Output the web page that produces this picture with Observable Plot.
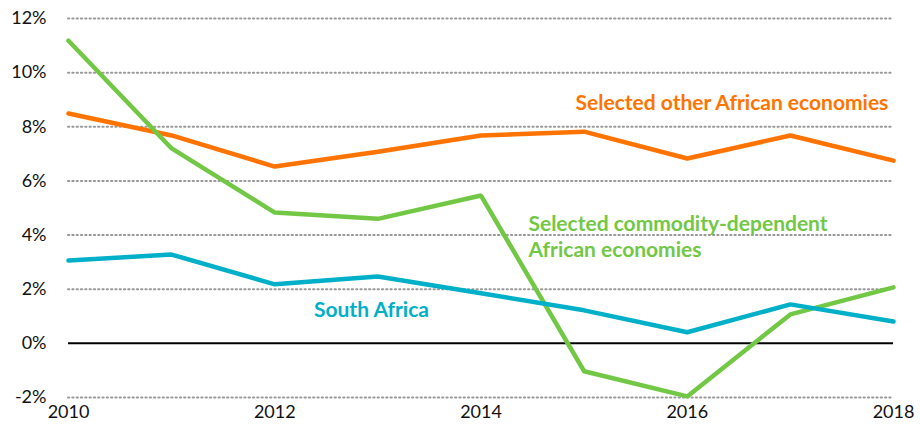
<!DOCTYPE html>
<html>
<head>
<meta charset="utf-8">
<script src="https://cdn.jsdelivr.net/npm/d3@7"></script>
<script src="https://cdn.jsdelivr.net/npm/@observablehq/plot@0.6"></script>
<style>
  html, body { margin: 0; padding: 0; background: #fff; }
  #chart { width: 920px; height: 430px; }
  svg { font-family: Lato, "Open Sans", sans-serif; }
</style>
</head>
<body>
<div id="chart"></div>
<script>
const years = [2010, 2011, 2012, 2013, 2014, 2015, 2016, 2017, 2018];
const commodity = [11.18, 7.2, 4.83, 4.6, 5.46, -1.03, -1.96, 1.07, 2.07];
const otherAfrican = [8.49, 7.68, 6.53, 7.08, 7.68, 7.82, 6.83, 7.68, 6.75];
const southAfrica = [3.06, 3.28, 2.18, 2.47, 1.85, 1.22, 0.41, 1.44, 0.81];
const yTicks = [-2, 0, 2, 4, 6, 8, 10, 12];
const xTicks = [2010, 2012, 2014, 2016, 2018];

const seriesNames = ["Selected other African economies", "Selected commodity-dependent African economies", "South Africa"];
const seriesColors = ["#FF7300", "#72C845", "#00AFC8"];
const seriesValues = [otherAfrican, commodity, southAfrica];

const data = seriesNames.flatMap((name, i) =>
  years.map((year, j) => ({ name, year, value: seriesValues[i][j] })));

const labels = [
  { text: "Selected other African economies", year: 2017.95, value: 8.87, color: seriesColors[0], anchor: "end" },
  { text: "Selected commodity-dependent", year: 2014.46, value: 4.4, color: seriesColors[1], anchor: "start" },
  { text: "African economies", year: 2014.46, value: 3.43, color: seriesColors[1], anchor: "start" },
  { text: "South Africa", year: 2012.38, value: 1.22, color: seriesColors[2], anchor: "start" }
];

const chart = Plot.plot({
  width: 920,
  height: 430,
  marginLeft: 68,
  marginRight: 27,
  marginTop: 18,
  marginBottom: 33,
  style: { fontSize: "18px", color: "#111", background: "#fff" },
  x: { domain: [2010, 2018], ticks: xTicks, tickFormat: d => String(d), tickSize: 0, tickPadding: 8, label: null },
  y: { domain: [-2, 12], ticks: yTicks, tickFormat: d => d + "%", tickSize: 0, tickPadding: 22, label: null },
  color: { domain: seriesNames, range: seriesColors },
  marks: [
    Plot.ruleY(yTicks.filter(d => d !== 0), { stroke: "#999", strokeWidth: 2, strokeDasharray: "1.3,3", strokeLinecap: "round" }),
    Plot.ruleY([0], { stroke: "#000", strokeWidth: 2 }),
    Plot.line(data, { x: "year", y: "value", z: "name", stroke: "name", strokeWidth: 4.5, strokeLinejoin: "miter" }),
    Plot.text(labels.filter(d => d.anchor === "end"), { x: "year", y: "value", text: "text", fill: "color", textAnchor: "end", fontWeight: "bold", fontSize: 21 }),
    Plot.text(labels.filter(d => d.anchor === "start"), { x: "year", y: "value", text: "text", fill: "color", textAnchor: "start", fontWeight: "bold", fontSize: 21 })
  ]
});
document.getElementById("chart").appendChild(chart);
</script>
</body>
</html>
